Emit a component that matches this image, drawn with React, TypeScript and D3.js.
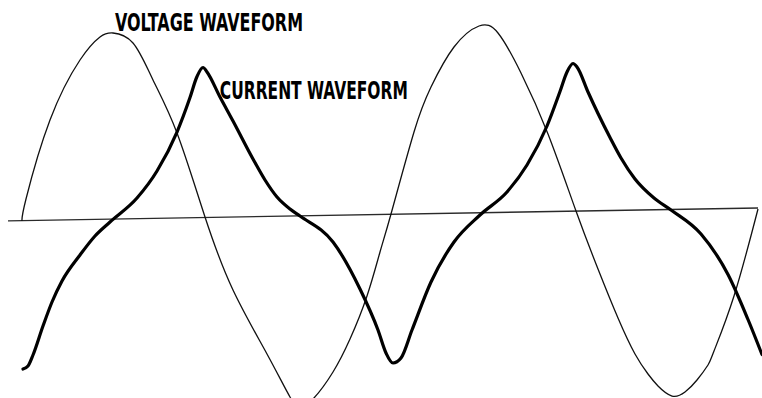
import React from "react";
import * as d3 from "d3";

// Phase in electrical degrees, amplitude in percent of peak
const voltagePhase = [0, 3.91, 27.39, 56.74, 76.3, 89.02, 108.59, 128.15, 151.63, 179.02, 206.41, 239.67, 262.17, 271.96, 284.67, 304.24, 320.87, 337.5, 350.22, 360.98, 383.48, 400.11, 422.61, 447.07, 465.65, 488.15, 514.57, 541.96, 563.48, 583.04, 599.67, 612.39, 622.17, 635.87, 648.59, 660.33, 671.09, 676.96, 696.52, 720];
const voltageValue = [-3.24, 8.65, 51.35, 83.78, 96.22, 98.38, 92.97, 72.97, 44.32, -1.08, -40.54, -75.14, -98.38, -103.78, -99.46, -84.86, -67.03, -43.78, -20, 0.54, 44.86, 69.19, 90.81, 102.16, 98.38, 76.76, 43.78, 2.16, -29.19, -55.68, -75.14, -85.95, -92.43, -97.84, -95.68, -89.19, -81.08, -73.51, -43.78, 3.24];

const currentPhase = [0.98, 5.87, 10.76, 20.54, 29.35, 39.13, 56.74, 71.41, 86.09, 112.5, 132.07, 151.63, 164.35, 171.2, 177.07, 180.98, 193.7, 206.41, 225.98, 237.72, 249.46, 262.17, 271.96, 304.24, 330.65, 348.26, 356.09, 362.93, 370.76, 381.52, 400.11, 422.61, 448.04, 474.46, 494.02, 513.59, 526.3, 533.15, 539.02, 542.93, 553.7, 563.48, 575.22, 585.98, 599.67, 618.26, 634.89, 664.24, 690.65, 710.22, 723.91];
const currentValue = [-83.24, -81.62, -75.68, -60, -47.03, -35.68, -21.62, -11.35, -3.78, 9.19, 23.78, 44.86, 63.51, 74.86, 79.73, 77.3, 63.78, 50.81, 30.27, 18.92, 9.73, 3.24, -0.54, -14.59, -40, -62.16, -74.59, -80, -77.3, -62.16, -36.22, -14.59, 0, 12.43, 27.03, 48.11, 66.76, 77.3, 81.89, 80, 66.49, 54.86, 41.89, 30.81, 19.46, 9.19, 2.7, -10.27, -32.16, -56.49, -75.41];

const axisPhase = [-13.7, 720];
const axisValue = [-3.2, 3.8];

const labels = ["VOLTAGE WAVEFORM", "CURRENT WAVEFORM"];
const labelPhase = [91, 193.5];
const labelValue = [99.5, 62.7];

const W = 762;
const H = 398;

export default function App() {
  const x = d3.scaleLinear().domain([0, 360]).range([22, 390]);
  const y = d3.scaleLinear().domain([-100, 100]).range([400, 30]);

  const smooth = d3
    .line<[number, number]>()
    .x((d) => x(d[0]))
    .y((d) => y(d[1]))
    .curve(d3.curveNatural);

  const peaky = d3
    .line<[number, number]>()
    .x((d) => x(d[0]))
    .y((d) => y(d[1]))
    .curve(d3.curveMonotoneX);

  const vPts = voltagePhase.map((p, i) => [p, voltageValue[i]] as [number, number]);
  const cPts = currentPhase.map((p, i) => [p, currentValue[i]] as [number, number]);
  const aPts = axisPhase.map((p, i) => [p, axisValue[i]] as [number, number]);
  const straight = d3
    .line<[number, number]>()
    .x((d) => x(d[0]))
    .y((d) => y(d[1]));

  const widths = [188, 188];

  return (
    <svg
      width={W}
      height={H}
      style={{ position: "fixed", left: 0, top: 0, background: "#fff" }}
    >
      <rect width={W} height={H} fill="#fff" />
      <path d={straight(aPts) || ""} fill="none" stroke="#2a2a2a" strokeWidth={1.4} />
      <path d={smooth(vPts) || ""} fill="none" stroke="#111" strokeWidth={1.3} />
      <path
        d={peaky(cPts) || ""}
        fill="none"
        stroke="#000"
        strokeWidth={3.2}
        strokeLinecap="round"
        strokeLinejoin="round"
      />
      {labels.map((t, i) => (
        <text
          key={t}
          x={x(labelPhase[i])}
          y={y(labelValue[i])}
          fontFamily="'DejaVu Sans Condensed', 'DejaVu Sans', sans-serif"
          fontWeight="bold"
          fontSize={24}
          textLength={widths[i]}
          lengthAdjust="spacingAndGlyphs"
          fill="#000"
        >
          {t}
        </text>
      ))}
    </svg>
  );
}
